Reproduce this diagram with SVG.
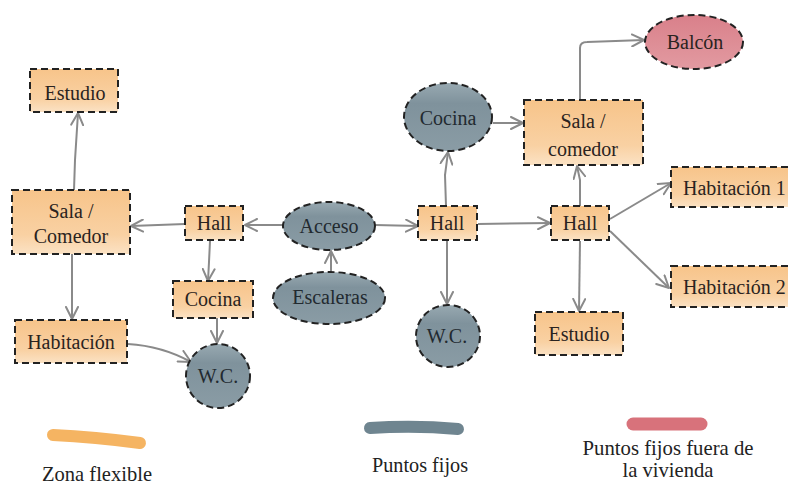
<svg xmlns="http://www.w3.org/2000/svg" width="788" height="485" viewBox="0 0 788 485">
  <defs>
    <linearGradient id="flex" x1="0" y1="0" x2="0" y2="1">
      <stop offset="0" stop-color="#f7c48a"/>
      <stop offset="0.7" stop-color="#f9d1a3"/>
      <stop offset="1" stop-color="#fbe2c4"/>
    </linearGradient>
    <linearGradient id="fixed" x1="0" y1="0" x2="0" y2="1">
      <stop offset="0" stop-color="#98a9b1"/>
      <stop offset="0.3" stop-color="#7f929c"/>
      <stop offset="1" stop-color="#8a9ca5"/>
    </linearGradient>
    <linearGradient id="outside" x1="0" y1="0" x2="0" y2="1">
      <stop offset="0" stop-color="#d9808a"/>
      <stop offset="1" stop-color="#e29aa1"/>
    </linearGradient>
    <marker id="arrow" viewBox="0 0 14 14" refX="13" refY="7" markerWidth="14" markerHeight="14" markerUnits="userSpaceOnUse" orient="auto">
      <path d="M1,1 L13,7 L1,13" fill="none" stroke="#8a8a8a" stroke-width="2" stroke-linecap="round" stroke-linejoin="round"/>
    </marker>
  </defs>
  <style>
    .flex { fill: url(#flex); stroke: #222; stroke-width: 2; stroke-dasharray: 7 4; }
    .fixed { fill: url(#fixed); stroke: #222; stroke-width: 2; stroke-dasharray: 7 4; }
    .outside { fill: url(#outside); stroke: #222; stroke-width: 2; stroke-dasharray: 7 4; }
    text { font-family: 'Liberation Serif', 'Tinos', 'Times New Roman', 'DejaVu Serif', 'Noto Serif', serif; }
    .lbl { font-size: 20px; fill: #2a2320; text-anchor: middle; }
    .dark { fill: #222a30; }
    .start { text-anchor: start; }
    .link { fill: none; stroke: #8a8a8a; stroke-width: 2; marker-end: url(#arrow); }
    .legend { font-size: 21px; fill: #222; text-anchor: middle; }
  </style>

  <rect width="788" height="485" fill="#ffffff"/>

  <!-- connectors -->
  <g id="connectors">
    <path class="link" d="M74,190 L75,160 L78,113"/>
    <path class="link" d="M185,224 L131,226"/>
    <path class="link" d="M283,225 L245,225"/>
    <path class="link" d="M375,225 L418,226"/>
    <path class="link" d="M331,272 L331,251"/>
    <path class="link" d="M210,241 L209,262 L208,281"/>
    <path class="link" d="M217,318 L217,343"/>
    <path class="link" d="M128,344 Q162,346 191,362"/>
    <path class="link" d="M72,254 L72,319"/>
    <path class="link" d="M446,206 L445,175 L448,152"/>
    <path class="link" d="M447,240 L447,304"/>
    <path class="link" d="M478,224 L550,223"/>
    <path class="link" d="M493,123 L523,123"/>
    <path class="link" d="M580,206 L580,180 L577,166"/>
    <path class="link" d="M580,100 L580,48 Q580,42 587,42 L644,40"/>
    <path class="link" d="M610,219 L671,183"/>
    <path class="link" d="M610,231 L669,288"/>
    <path class="link" d="M580,241 L579,311"/>
  </g>

  <!-- left wing -->
  <g id="estudio-left">
    <rect class="flex" x="30" y="69" width="88" height="43"/>
    <text class="lbl" x="75" y="100" font-family="Liberation Serif, serif">Estudio</text>
  </g>
  <g id="sala-comedor-left">
    <rect class="flex" x="12" y="190" width="118" height="64"/>
    <text class="lbl" x="71" y="218">Sala /</text>
    <text class="lbl" x="71" y="243">Comedor</text>
  </g>
  <g id="habitacion-left">
    <rect class="flex" x="15" y="320" width="112" height="43"/>
    <text class="lbl" x="71" y="349">Habitación</text>
  </g>
  <g id="hall-left">
    <rect class="flex" x="185" y="206" width="58" height="34"/>
    <text class="lbl" x="214" y="230">Hall</text>
  </g>
  <g id="cocina-left">
    <rect class="flex" x="173" y="281" width="80" height="37"/>
    <text class="lbl" x="213" y="306">Cocina</text>
  </g>
  <g id="wc-left">
    <circle class="fixed" cx="218" cy="376" r="32"/>
    <text class="lbl dark" x="218" y="383">W.C.</text>
  </g>

  <!-- entrance -->
  <g id="acceso">
    <ellipse class="fixed" cx="329" cy="226" rx="46" ry="24"/>
    <text class="lbl dark" x="329" y="233">Acceso</text>
  </g>
  <g id="escaleras">
    <ellipse class="fixed" cx="329" cy="298" rx="56" ry="26"/>
    <text class="lbl dark" x="330" y="304">Escaleras</text>
  </g>

  <!-- right wing -->
  <g id="hall-middle">
    <rect class="flex" x="418" y="206" width="59" height="34"/>
    <text class="lbl" x="447" y="230">Hall</text>
  </g>
  <g id="cocina-middle">
    <ellipse class="fixed" cx="448" cy="117" rx="44" ry="34"/>
    <text class="lbl dark" x="448" y="125">Cocina</text>
  </g>
  <g id="wc-middle">
    <ellipse class="fixed" cx="448" cy="336" rx="32" ry="31"/>
    <text class="lbl dark" x="447" y="343">W.C.</text>
  </g>
  <g id="hall-right">
    <rect class="flex" x="551" y="206" width="58" height="34"/>
    <text class="lbl" x="580" y="230">Hall</text>
  </g>
  <g id="sala-comedor-right">
    <rect class="flex" x="524" y="100" width="119" height="65"/>
    <text class="lbl" x="583" y="128">Sala /</text>
    <text class="lbl" x="583" y="156">comedor</text>
  </g>
  <g id="balcon">
    <ellipse class="outside" cx="694" cy="42" rx="49" ry="27"/>
    <text class="lbl" x="695" y="49">Balcón</text>
  </g>
  <g id="estudio-right">
    <rect class="flex" x="535" y="312" width="88" height="43"/>
    <text class="lbl" x="579" y="341">Estudio</text>
  </g>
  <g id="habitacion-1">
    <rect class="flex" x="671" y="167" width="130" height="40"/>
    <text class="lbl start" x="683" y="195">Habitación 1</text>
  </g>
  <g id="habitacion-2">
    <rect class="flex" x="671" y="266" width="130" height="41"/>
    <text class="lbl start" x="683" y="294">Habitación 2</text>
  </g>

  <!-- legend -->
  <g id="legend">
    <path d="M53,435 Q95,437 140,443" fill="none" stroke="#f5b462" stroke-width="12" stroke-linecap="round"/>
    <text class="legend" x="97" y="481" textLength="110" lengthAdjust="spacingAndGlyphs">Zona flexible</text>
    <path d="M370,428 Q415,425 458,429" fill="none" stroke="#6f8590" stroke-width="12" stroke-linecap="round"/>
    <text class="legend" x="420" y="472" textLength="96" lengthAdjust="spacingAndGlyphs">Puntos fijos</text>
    <path d="M633,424 L701,424" fill="none" stroke="#d8727b" stroke-width="13" stroke-linecap="round"/>
    <text class="legend" x="668" y="455" textLength="171" lengthAdjust="spacingAndGlyphs">Puntos fijos fuera de</text>
    <text class="legend" x="668" y="477" textLength="91" lengthAdjust="spacingAndGlyphs">la vivienda</text>
  </g>
</svg>
